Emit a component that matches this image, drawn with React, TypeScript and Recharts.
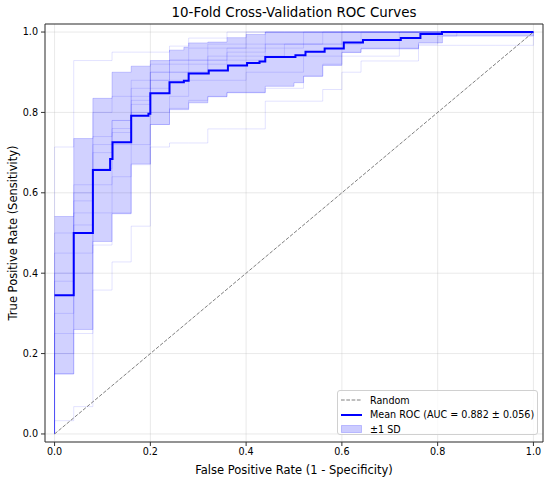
import React from "react";
import {
  ComposedChart,
  Line,
  Area,
  XAxis,
  YAxis,
  CartesianGrid,
  ReferenceArea,
} from "recharts";

const TITLE = "10-Fold Cross-Validation ROC Curves";
const X_LABEL = "False Positive Rate (1 - Specificity)";
const Y_LABEL = "True Positive Rate (Sensitivity)";
const TICKS = [0, 0.2, 0.4, 0.6, 0.8, 1.0];
const LEGEND_LABELS = ["Random", "Mean ROC (AUC = 0.882 ± 0.056)", "±1 SD"];

// mean ROC, step after each fpr
const MEAN_FPR = [0, 0.04, 0.08, 0.116, 0.121, 0.16, 0.196, 0.2, 0.24, 0.27, 0.28, 0.322, 0.362, 0.402, 0.428, 0.44, 0.503, 0.524, 0.564, 0.604, 0.644, 0.723, 0.764, 0.809, 1.0];
const MEAN_TPR = [0.345, 0.5, 0.657, 0.684, 0.726, 0.792, 0.797, 0.848, 0.875, 0.879, 0.897, 0.904, 0.917, 0.923, 0.927, 0.938, 0.942, 0.951, 0.959, 0.974, 0.98, 0.985, 0.995, 1.0, 1.0];

// ±1 SD band
const BAND_FPR = [0, 0.04, 0.08, 0.12, 0.16, 0.2, 0.24, 0.27, 0.28, 0.32, 0.36, 0.4, 0.44, 0.5, 0.52, 0.56, 0.6, 0.64, 0.76, 0.81, 1.0];
const BAND_LOWER = [0.149, 0.26, 0.479, 0.548, 0.672, 0.77, 0.807, 0.807, 0.824, 0.839, 0.849, 0.849, 0.865, 0.874, 0.89, 0.917, 0.949, 0.958, 0.973, 0.99, 1.0];
const BAND_UPPER = [0.541, 0.735, 0.835, 0.9, 0.915, 0.929, 0.955, 0.962, 0.973, 0.975, 0.986, 0.994, 1.0, 1.0, 1.0, 1.0, 1.0, 1.0, 1.0, 1.0, 1.0];

// individual folds, tpr after each fpr step
const FOLD_FPR = [0, 0.04, 0.08, 0.12, 0.16, 0.2, 0.24, 0.28, 0.32, 0.36, 0.4, 0.44, 0.48, 0.52, 0.56, 0.6, 0.64, 0.68, 0.72, 0.76, 0.8, 0.84, 0.88, 0.92, 0.96, 1.0];
const FOLD_1 = [0.033, 0.068, 0.358, 0.428, 0.517, 0.714, 0.724, 0.724, 0.759, 0.759, 0.759, 0.828, 0.828, 0.828, 0.857, 0.9, 0.928, 0.928, 0.928, 0.967, 0.967, 0.967, 0.967, 0.967, 0.967, 1.0];
const FOLD_2 = [0.15, 0.25, 0.47, 0.55, 0.67, 0.77, 0.81, 0.83, 0.84, 0.85, 0.85, 0.86, 0.86, 0.89, 0.92, 0.95, 0.96, 0.96, 0.96, 0.97, 0.99, 1, 1, 1, 1, 1];
const FOLD_3 = [0.3, 0.45, 0.62, 0.72, 0.8, 0.86, 0.9, 0.9, 0.93, 0.93, 0.93, 0.97, 0.97, 0.97, 0.97, 1, 1, 1, 1, 1, 1, 1, 1, 1, 1, 1];
const FOLD_4 = [0.4, 0.55, 0.7, 0.75, 0.82, 0.88, 0.88, 0.92, 0.92, 0.96, 0.96, 0.96, 0.96, 1, 1, 1, 1, 1, 1, 1, 1, 1, 1, 1, 1, 1];
const FOLD_5 = [0.5, 0.62, 0.8, 0.84, 0.88, 0.92, 0.92, 0.96, 0.96, 0.96, 1, 1, 1, 1, 1, 1, 1, 1, 1, 1, 1, 1, 1, 1, 1, 1];
const FOLD_6 = [0.714, 0.929, 0.929, 0.95, 0.95, 0.95, 0.965, 0.985, 0.985, 1, 1, 1, 1, 1, 1, 1, 1, 1, 1, 1, 1, 1, 1, 1, 1, 1];
const FOLD_7 = [0.25, 0.58, 0.74, 0.78, 0.84, 0.9, 0.9, 0.9, 0.94, 0.94, 0.94, 0.94, 0.97, 0.97, 0.97, 0.97, 1, 1, 1, 1, 1, 1, 1, 1, 1, 1];
const FOLD_8 = [0.38, 0.52, 0.66, 0.76, 0.86, 0.9, 0.93, 0.93, 0.93, 0.95, 0.95, 1, 1, 1, 1, 1, 1, 1, 1, 1, 1, 1, 1, 1, 1, 1];
const FOLD_9 = [0.2, 0.4, 0.55, 0.64, 0.72, 0.8, 0.84, 0.88, 0.88, 0.88, 0.9, 0.9, 0.9, 0.94, 0.94, 0.94, 0.94, 0.94, 1, 1, 1, 1, 1, 1, 1, 1];
const FOLD_10 = [0.45, 0.6, 0.72, 0.78, 0.83, 0.88, 0.93, 0.93, 0.97, 0.97, 0.97, 0.97, 0.97, 0.97, 1, 1, 1, 1, 1, 1, 1, 1, 1, 1, 1, 1];
const FOLDS = [FOLD_1, FOLD_2, FOLD_3, FOLD_4, FOLD_5, FOLD_6, FOLD_7, FOLD_8, FOLD_9, FOLD_10];

const RANDOM_LINE = [0, 1];

const meanData = MEAN_FPR.map((fpr, i) => ({ fpr, tpr: MEAN_TPR[i] }));
const bandData = BAND_FPR.map((fpr, i) => ({ fpr, band: [BAND_LOWER[i], BAND_UPPER[i]] }));
const foldData = FOLDS.map((tprs) => [
  { fpr: 0, tpr: 0 },
  ...FOLD_FPR.map((fpr, i) => ({ fpr, tpr: tprs[i] })),
]);
const randomData = RANDOM_LINE.map((v) => ({ fpr: v, tpr: v }));

const FONT = "DejaVu Sans, sans-serif";
const tickStyle = { fontSize: 9.6, fill: "#000", fontFamily: FONT };

function LegendBox() {
  return (
    <div
      style={{
        position: "absolute",
        left: 337,
        top: 390,
        width: 199,
        height: 43,
        background: "rgba(255,255,255,0.8)",
        border: "1px solid #d0d0d0",
        borderRadius: 3,
        fontFamily: FONT,
        fontSize: 9.6,
        color: "#000",
      }}
    >
      {LEGEND_LABELS.map((label, i) => (
        <div
          key={label}
          style={{ position: "absolute", left: 3, top: 2 + i * 14.6, height: 14, display: "flex", alignItems: "center", whiteSpace: "nowrap" }}
        >
          <svg width={22} height={10} style={{ marginRight: 7 }}>
            {i === 0 && <line x1={0} y1={5} x2={21} y2={5} stroke="#7f7f7f" strokeWidth={1} strokeDasharray="3.7 1.6" />}
            {i === 1 && <line x1={0} y1={5} x2={21} y2={5} stroke="#0000ff" strokeWidth={2} />}
            {i === 2 && <rect x={0.5} y={1.5} width={20} height={7} fill="#0000ff" fillOpacity={0.2} stroke="#0000ff" strokeOpacity={0.2} />}
          </svg>
          <span>{label}</span>
        </div>
      ))}
    </div>
  );
}

export default function App() {
  return (
    <div style={{ position: "relative", width: 550, height: 479, background: "#fff" }}>
      <style>{"body{margin:0}"}</style>
      <div
        style={{
          position: "absolute",
          left: 45,
          top: 5,
          width: 498,
          textAlign: "center",
          fontFamily: FONT,
          fontSize: 13.4,
          lineHeight: "16px",
          color: "#000",
        }}
      >
        {TITLE}
      </div>
      <ComposedChart width={550} height={479} margin={{ top: 24, right: 7, bottom: 0, left: 0 }}>
        <CartesianGrid stroke="#b0b0b0" strokeOpacity={0.35} strokeWidth={0.8} />
        <XAxis
          type="number"
          dataKey="fpr"
          domain={[-0.02, 1.02]}
          ticks={TICKS}
          allowDataOverflow
          tickFormatter={(v: number) => v.toFixed(1)}
          tick={tickStyle}
          tickSize={4}
          tickMargin={2}
          tickLine={{ stroke: "#333" }}
          axisLine={false}
          height={37}
          label={{ value: X_LABEL, position: "insideBottom", offset: 5, style: { fontSize: 11.5, fill: "#000", fontFamily: FONT } }}
        />
        <YAxis
          type="number"
          domain={[-0.02, 1.02]}
          ticks={TICKS}
          allowDataOverflow
          tickFormatter={(v: number) => v.toFixed(1)}
          tick={tickStyle}
          tickSize={4}
          tickMargin={3}
          tickLine={{ stroke: "#333" }}
          axisLine={false}
          width={45}
          label={{ value: Y_LABEL, angle: -90, position: "insideLeft", offset: 13, style: { textAnchor: "middle", fontSize: 11.5, fill: "#000", fontFamily: FONT } }}
        />
        {foldData.map((d, i) => (
          <Line
            key={"fold" + i}
            data={d}
            dataKey="tpr"
            type="stepAfter"
            stroke="#0000ff"
            strokeOpacity={0.13}
            strokeWidth={0.9}
            dot={false}
            activeDot={false}
            isAnimationActive={false}
          />
        ))}
        <Line
          data={randomData}
          dataKey="tpr"
          type="linear"
          stroke="#7f7f7f"
          strokeWidth={1}
          strokeDasharray="3.7 1.6"
          dot={false}
          activeDot={false}
          isAnimationActive={false}
        />
        <Line
          data={meanData}
          dataKey="tpr"
          type="stepAfter"
          stroke="#0000ff"
          strokeWidth={2}
          dot={false}
          activeDot={false}
          isAnimationActive={false}
        />
        <Area
          data={bandData}
          dataKey="band"
          type="stepAfter"
          fill="#0000ff"
          fillOpacity={0.18}
          stroke="#0000ff"
          strokeOpacity={0.18}
          strokeWidth={1}
          dot={false}
          activeDot={false}
          isAnimationActive={false}
        />
        <ReferenceArea x1={-0.02} x2={1.02} y1={-0.02} y2={1.02} fill="none" stroke="#333" strokeWidth={1} />
      </ComposedChart>
      <LegendBox />
    </div>
  );
}
